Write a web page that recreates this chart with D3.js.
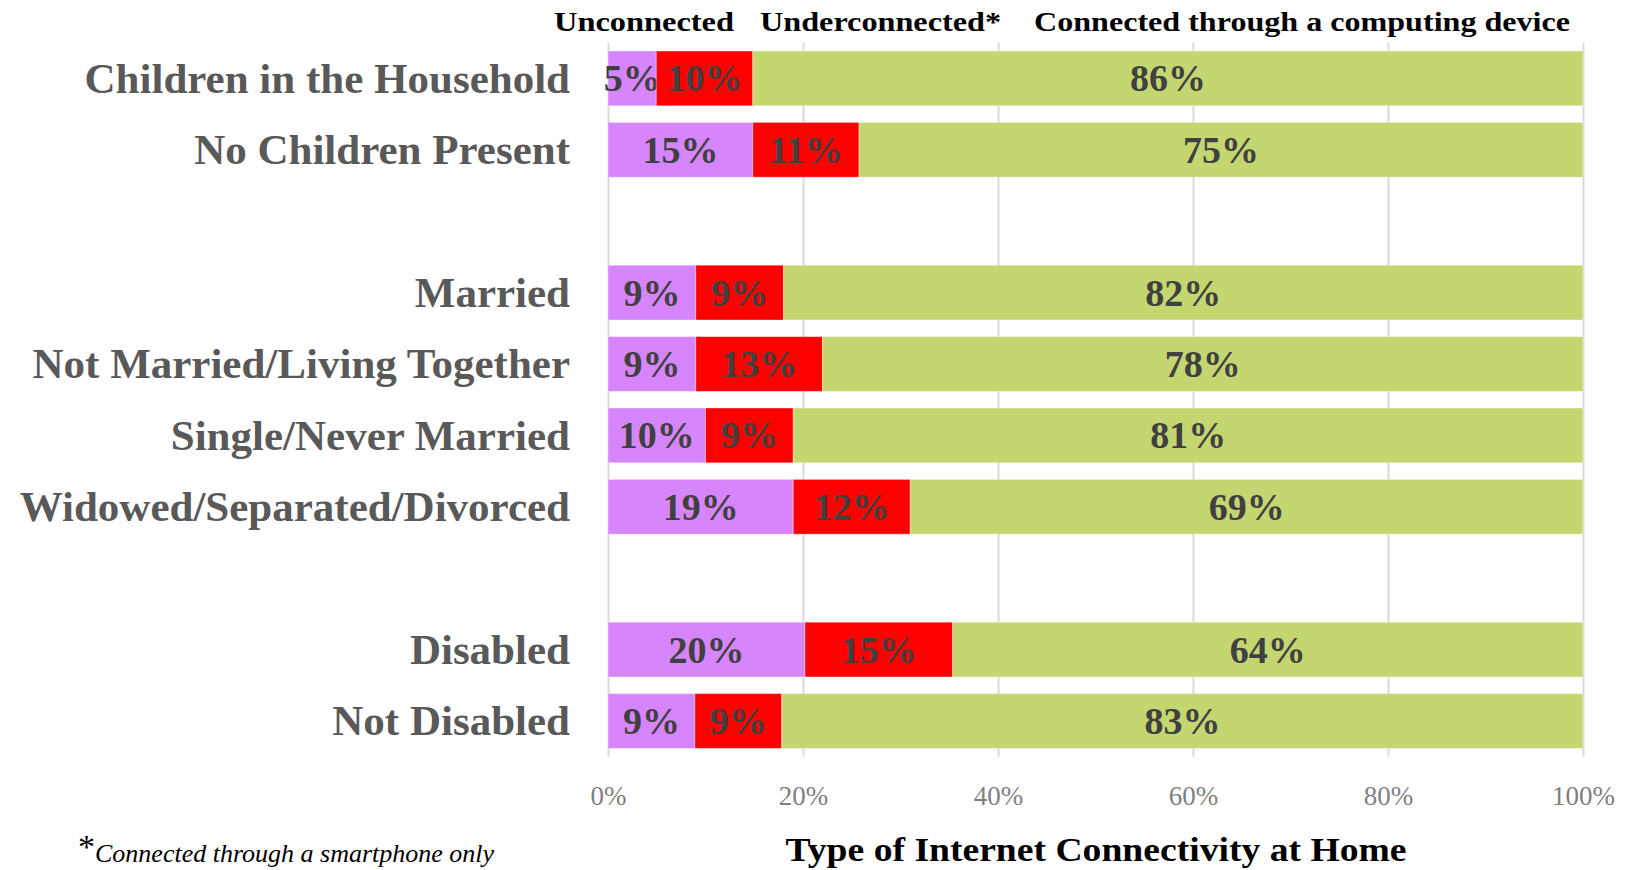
<!DOCTYPE html>
<html>
<head>
  <meta charset="utf-8">
  <title>Type of Internet Connectivity at Home</title>
  <script src="https://d3js.org/d3.v7.min.js"></script>
  <style>
    body { margin: 0; background: #fff; }
    svg text { font-family: "Liberation Serif", "Times New Roman", Tinos, Times, serif !important; }
  </style>
</head>
<body>
  <div id="chart"></div>

  <script type="text/javascript">

    // rows, with two empty slots that separate the groups
    var categories = [
      "Children in the Household",
      "No Children Present",
      "gap1",
      "Married",
      "Not Married/Living Together",
      "Single/Never Married",
      "Widowed/Separated/Divorced",
      "gap2",
      "Disabled",
      "Not Disabled"
    ];

    var seriesNames = ["Unconnected", "Underconnected*", "Connected through a computing device"];

    // percentages as printed on the bars (100% stacked, so each row is normalised)
    var unconnected    = [5, 15, null, 9, 9, 10, 19, null, 20, 9];
    var underconnected = [10, 11, null, 9, 13, 9, 12, null, 15, 9];
    var connected      = [86, 75, null, 82, 78, 81, 69, null, 64, 83];

    var xTicks = [0, 0.2, 0.4, 0.6, 0.8, 1];

    var colors = ["#D785FC", "#FF0000", "#C4D670"];

    var width = 1631, height = 870;

    var svg = d3.select("#chart")
      .append("svg")
        .attr("width", width)
        .attr("height", height);

    var x = d3.scaleLinear()
        .domain([0, 1])
        .range([608, 1583]);

    var y = d3.scaleBand()
        .domain(categories)
        .range([42.7, 756.7])
        .paddingInner(0.233)
        .paddingOuter(0.1165);

    // table the stack layout needs
    var rows = categories.map(function(c, i) {
      return {
        cat: c,
        gap: unconnected[i] === null,
        s0: unconnected[i] || 0,
        s1: underconnected[i] || 0,
        s2: connected[i] || 0
      };
    }).filter(function(d) { return !d.gap; });

    var stack = d3.stack()
        .keys(["s0", "s1", "s2"])
        .offset(d3.stackOffsetExpand);

    var layers = stack(rows);

    // gridlines + tick labels
    var xAxis = svg.append("g")
        .attr("transform", "translate(0," + y.range()[1] + ")")
        .call(d3.axisBottom(x)
          .tickValues(xTicks)
          .tickFormat(d3.format(".0%"))
          .tickSize(-(y.range()[1] - y.range()[0]))
          .tickPadding(29));

    xAxis.select(".domain").remove();
    xAxis.selectAll(".tick line")
        .attr("stroke", "#d9d9d9")
        .attr("stroke-width", 2);
    xAxis.selectAll(".tick text")
        .attr("fill", "#7f7f7f")
        .attr("font-size", 27);

    // bars
    var layer = svg.selectAll(".layer")
        .data(layers)
        .enter()
        .append("g")
        .attr("class", "layer")
        .attr("fill", function(d, i) { return colors[i]; });

    layer.selectAll("rect")
        .data(function(d) { return d; })
        .enter()
        .append("rect")
        .attr("x", function(d) { return x(d[0]); })
        .attr("y", function(d) { return y(d.data.cat); })
        .attr("width", function(d) { return x(d[1]) - x(d[0]); })
        .attr("height", y.bandwidth())
        .attr("stroke", "#ffffff")
        .attr("stroke-opacity", 0.35)
        .attr("stroke-width", 1);

    // value labels
    layer.selectAll("text")
        .data(function(d) {
          return d.map(function(p) { return {p: p, key: d.key}; });
        })
        .enter()
        .append("text")
        .attr("x", function(d) { return (x(d.p[0]) + x(d.p[1])) / 2; })
        .attr("y", function(d) { return y(d.p.data.cat) + y.bandwidth() / 2; })
        .attr("dy", "0.34em")
        .attr("text-anchor", "middle")
        .attr("font-size", 38)
        .attr("font-weight", "bold")
        .attr("fill", "#404040")
        .text(function(d) { return d.p.data[d.key] + "%"; });

    // category labels
    var yAxis = svg.append("g")
        .attr("transform", "translate(" + x(0) + ",0)")
        .call(d3.axisLeft(y)
          .tickSize(0)
          .tickPadding(38)
          .tickFormat(function(d) { return d.indexOf("gap") === 0 ? "" : d; }));

    yAxis.select(".domain").remove();
    yAxis.selectAll(".tick text")
        .attr("fill", "#595959")
        .attr("font-size", 43)
        .attr("font-weight", "bold")
        .attr("dy", "0.33em");

    // legend along the top
    var legendX = [554, 760, 1034];
    var legendW = [180, 241, 536];

    svg.selectAll(".legend")
        .data(seriesNames)
        .enter()
        .append("text")
        .attr("class", "legend")
        .attr("x", function(d, i) { return legendX[i]; })
        .attr("y", 31)
        .attr("font-size", 27)
        .attr("font-weight", "bold")
        .attr("fill", "#000")
        .attr("textLength", function(d, i) { return legendW[i]; })
        .attr("lengthAdjust", "spacingAndGlyphs")
        .text(function(d) { return d; });

    // axis title
    svg.append("text")
        .attr("x", 1096)
        .attr("y", 861)
        .attr("text-anchor", "middle")
        .attr("font-size", 34)
        .attr("font-weight", "bold")
        .attr("fill", "#000")
        .attr("textLength", 621)
        .attr("lengthAdjust", "spacingAndGlyphs")
        .text("Type of Internet Connectivity at Home");

    // footnote
    var note = svg.append("text")
        .attr("x", 78)
        .attr("y", 862)
        .attr("fill", "#000");

    note.append("tspan")
        .attr("font-size", 34)
        .attr("dy", "-4")
        .text("*");

    note.append("tspan")
        .attr("font-size", 26)
        .attr("font-style", "italic")
        .attr("dy", "4")
        .text("Connected through a smartphone only");

  </script>
</body>
</html>
